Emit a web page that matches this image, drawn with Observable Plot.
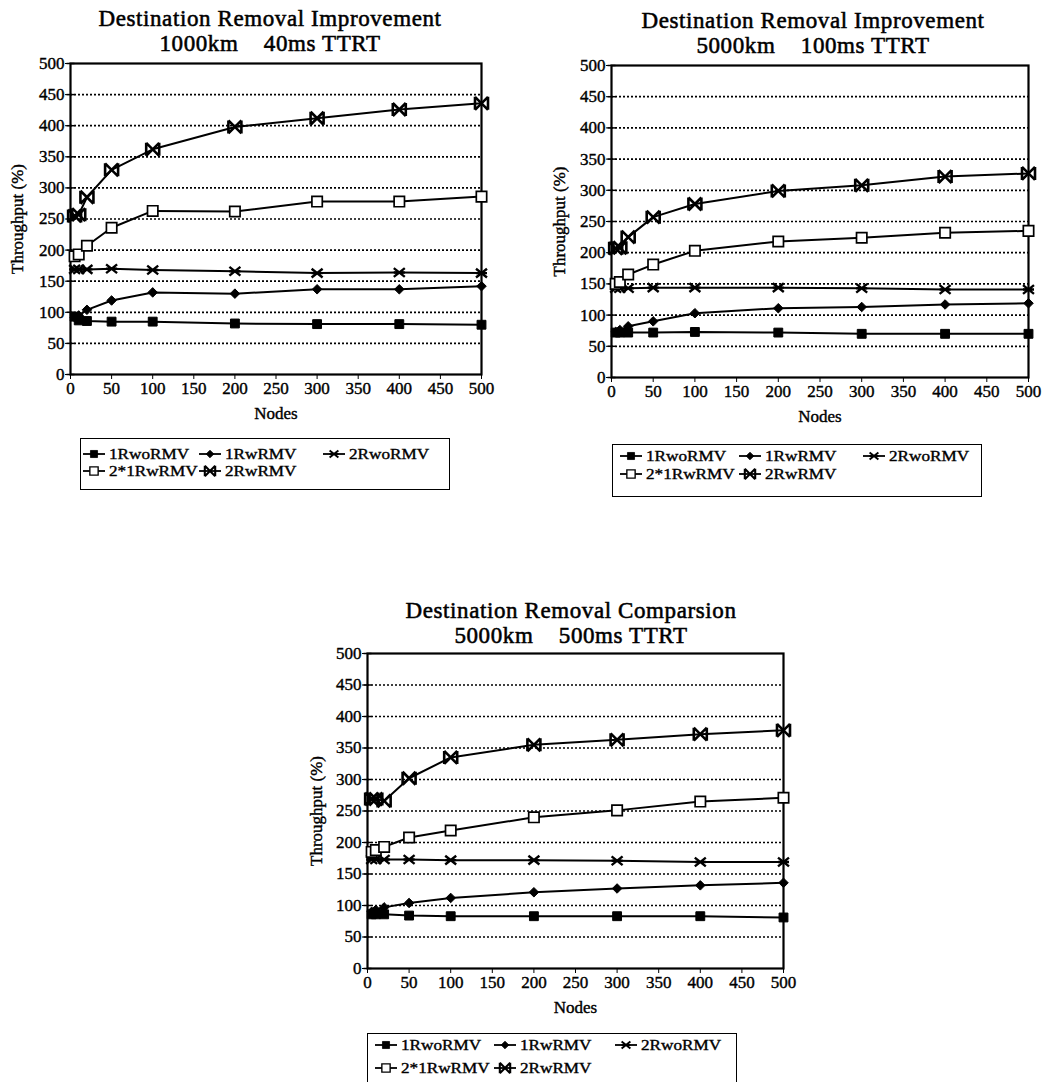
<!DOCTYPE html>
<html>
<head>
<meta charset="utf-8">
<script src="https://cdn.jsdelivr.net/npm/d3@7"></script>
<script src="https://cdn.jsdelivr.net/npm/@observablehq/plot@0.6"></script>
<style>
  html, body { margin: 0; padding: 0; background: #fff; }
  #root { position: relative; width: 1047px; height: 1082px; background: #fff; overflow: hidden;
          font-family: "Liberation Serif", "Times New Roman", serif; color: #000; }
  .title { position: absolute; white-space: pre; font-size: 23px; letter-spacing: 0.6px; line-height: 25px;
           transform: translateX(-50%); text-align: center; -webkit-text-stroke: 0.55px #000; z-index: 2; }
  .chart { position: absolute; z-index: 1; }
  .legend { position: absolute; border: 1.8px solid #000; box-sizing: border-box; }
  .entry { position: absolute; display: flex; align-items: center; height: 16px; }
  .entry span { display: inline-block; font-size: 14.3px; transform: scaleX(1.2); transform-origin: left center;
                white-space: pre; -webkit-text-stroke: 0.35px #000; }
</style>
</head>
<body>
<div id="root"></div>
<script>
// ---------- data ----------
const nodes = [5, 10, 20, 50, 100, 200, 300, 400, 500];
const seriesNames = ["1RwoRMV", "1RwRMV", "2RwoRMV", "2*1RwRMV", "2RwRMV"];
const xTicks = [0, 50, 100, 150, 200, 250, 300, 350, 400, 450, 500];
const yTicks = [0, 50, 100, 150, 200, 250, 300, 350, 400, 450, 500];
const gridVals = [50, 100, 150, 200, 250, 300, 350, 400, 450];

// Chart A: 1000km 40ms TTRT
const a_1RwoRMV  = [93, 87, 86, 85, 85, 82, 81, 81, 80];
const a_1RwRMV   = [92, 95, 104, 119, 132, 130, 137, 137, 142];
const a_2RwoRMV  = [169, 169, 169, 170, 168, 166, 163, 164, 163];
const a_2x1RwRMV = [190, 193, 207, 236, 263, 262, 278, 278, 286];
const a_2RwRMV   = [255, 257, 285, 329, 362, 398, 412, 426, 436];

// Chart B: 5000km 100ms TTRT
const b_1RwoRMV  = [72, 72, 72, 72, 73, 72, 70, 70, 70];
const b_1RwRMV   = [73, 76, 82, 90, 103, 111, 113, 117, 119];
const b_2RwoRMV  = [143, 143, 143, 144, 144, 144, 143, 141, 141];
const b_2x1RwRMV = [150, 153, 165, 181, 203, 218, 224, 232, 235];
const b_2RwRMV   = [207, 208, 225, 257, 278, 299, 308, 322, 327];

// Chart C: 5000km 500ms TTRT
const c_1RwoRMV  = [86, 86, 86, 84, 83, 83, 83, 83, 81];
const c_1RwRMV   = [90, 93, 97, 104, 112, 121, 127, 132, 136];
const c_2RwoRMV  = [173, 173, 173, 173, 172, 172, 171, 169, 169];
const c_2x1RwRMV = [185, 188, 193, 208, 219, 240, 251, 265, 271];
const c_2RwRMV   = [269, 269, 266, 302, 335, 355, 363, 372, 378];

const titleA = ["Destination Removal Improvement", "1000km    40ms TTRT"];
const titleB = ["Destination Removal Improvement", "5000km    100ms TTRT"];
const titleC = ["Destination Removal Comparsion", "5000km    500ms TTRT"];

// ---------- symbols ----------
const astSym = { draw(ctx, size) { const r = Math.sqrt(size / Math.PI);
  ctx.moveTo(-r, -r * 0.8); ctx.lineTo(r, r * 0.8); ctx.moveTo(-r, r * 0.8); ctx.lineTo(r, -r * 0.8);
  ctx.moveTo(-r, 0); ctx.lineTo(r, 0); } };
const bowSym = { draw(ctx, size) { const r = Math.sqrt(size / Math.PI);
  ctx.moveTo(-r, -r); ctx.lineTo(r, r); ctx.moveTo(-r, r); ctx.lineTo(r, -r);
  ctx.moveTo(-r, -r); ctx.lineTo(-r, r); ctx.moveTo(r, -r); ctx.lineTo(r, r); } };
const hSym = { draw(ctx, size) { const r = Math.sqrt(size / Math.PI); ctx.moveTo(-r, 0); ctx.lineTo(r, 0); } };

const styles = {
  "1RwoRMV":  { symbol: "square",   fill: "black", stroke: "black", strokeWidth: 1,   r: 5 },
  "1RwRMV":   { symbol: "diamond2", fill: "black", stroke: "black", strokeWidth: 1,   r: 4.3 },
  "2RwoRMV":  { symbol: astSym,     fill: "none",  stroke: "black", strokeWidth: 2.4, r: 5.5 },
  "2*1RwRMV": { symbol: "square2",  fill: "white", stroke: "black", strokeWidth: 1.7, r: 6.6 },
  "2RwRMV":   { symbol: bowSym,     fill: "none",  stroke: "black", strokeWidth: 2.6, r: 6.5 }
};

const FONT = '"Liberation Serif", "Times New Roman", serif';
const root = document.getElementById("root");

function addTitle(lines, cx, y1) {
  lines.forEach((t, i) => {
    const d = document.createElement("div");
    d.className = "title";
    d.textContent = t;
    d.style.left = cx + "px";
    d.style.top = (y1 - 12.5 + i * 25) + "px";
    root.appendChild(d);
  });
}

function makeChart(values, opt) {
  const rows = [];
  seriesNames.forEach((s, i) => values[i].forEach((v, j) => rows.push({ series: s, nodes: nodes[j], thr: v })));
  const marks = [
    Plot.ruleY(gridVals, { stroke: "black", strokeWidth: 1.7, strokeDasharray: "2,2" }),
    Plot.axisX({ ticks: xTicks, tickFormat: d => String(d), tickSize: 5, tickPadding: 2, fontSize: 17,
                 label: "Nodes", labelAnchor: "center", labelArrow: "none", labelOffset: opt.xLabelOffset }),
    Plot.axisY({ ticks: yTicks, tickFormat: d => String(d), tickSize: 5, tickPadding: 1, fontSize: 17,
                 label: "Throughput (%)", labelAnchor: "center", labelArrow: "none", labelOffset: opt.yLabelOffset }),
    Plot.dot(yTicks, { x: 0, y: d => d, symbol: hSym, r: 4, fill: "none", stroke: "black", strokeWidth: 1.5 }),
    Plot.frame({ stroke: "black", strokeWidth: 2.2 }),
    Plot.line(rows, { x: "nodes", y: "thr", z: "series", stroke: "black", strokeWidth: 2 })
  ];
  seriesNames.forEach(s => {
    const st = styles[s];
    marks.push(Plot.dot(rows.filter(r => r.series === s), { x: "nodes", y: "thr", ...st }));
  });
  const svg = Plot.plot({
    width: opt.width, height: opt.height,
    marginLeft: opt.ml, marginRight: opt.mr, marginTop: opt.mt, marginBottom: opt.mb,
    style: { fontFamily: FONT, fontSize: "17px", color: "black", background: "transparent", overflow: "visible" },
    x: { domain: [0, 500] },
    y: { domain: [0, 500] },
    marks
  });
  svg.querySelectorAll("text").forEach(t => { t.setAttribute("stroke", "black"); t.setAttribute("stroke-width", "0.4"); });
  const wrap = document.createElement("div");
  wrap.className = "chart";
  wrap.style.left = opt.left + "px";
  wrap.style.top = opt.top + "px";
  wrap.appendChild(svg);
  root.appendChild(wrap);
}

// legend glyph svg (legend swatches, not data)
function glyph(name) {
  const ns = "http://www.w3.org/2000/svg";
  const svg = document.createElementNS(ns, "svg");
  svg.setAttribute("width", 22); svg.setAttribute("height", 14);
  svg.style.overflow = "visible";
  const line = document.createElementNS(ns, "line");
  line.setAttribute("x1", 0); line.setAttribute("x2", 22); line.setAttribute("y1", 7); line.setAttribute("y2", 7);
  line.setAttribute("stroke", "black"); line.setAttribute("stroke-width", 1.8);
  svg.appendChild(line);
  const p = document.createElementNS(ns, "path");
  const st = styles[name];
  let sym = st.symbol;
  if (typeof sym === "string") sym = { square: d3.symbolSquare, diamond2: d3.symbolDiamond2, square2: d3.symbolSquare2 }[sym];
  const r = st.r * 0.8;
  p.setAttribute("d", d3.symbol(sym, r * r * Math.PI)());
  p.setAttribute("transform", "translate(11,7)");
  p.setAttribute("fill", st.fill); p.setAttribute("stroke", st.stroke); p.setAttribute("stroke-width", st.strokeWidth * 0.8);
  svg.appendChild(p);
  return svg;
}

function makeLegend(opt) {
  const box = document.createElement("div");
  box.className = "legend";
  box.style.left = opt.left + "px"; box.style.top = opt.top + "px";
  box.style.width = opt.width + "px"; box.style.height = opt.height + "px";
  const cols = opt.cols, rowsY = opt.rows;
  const order = [[0, 0], [0, 1], [0, 2], [1, 0], [1, 1]];
  seriesNames.forEach((s, i) => {
    const [r, c] = order[i];
    const e = document.createElement("div");
    e.className = "entry";
    e.style.left = cols[c] + "px";
    e.style.top = (rowsY[r] - 8) + "px";
    e.appendChild(glyph(s));
    const t = document.createElement("span");
    t.textContent = s;
    t.style.marginLeft = "4px";
    e.appendChild(t);
    box.appendChild(e);
  });
  root.appendChild(box);
}

// ---------- build ----------
addTitle(titleA, 270, 18);
makeChart([a_1RwoRMV, a_1RwRMV, a_2RwoRMV, a_2x1RwRMV, a_2RwRMV],
  { left: 0, top: 55, width: 495, height: 380, ml: 70, mr: 14, mt: 8, mb: 61, xLabelOffset: 44, yLabelOffset: 60 });
makeLegend({ left: 80, top: 438, width: 370, height: 52, cols: [2, 118, 242], rows: [15, 32] });

addTitle(titleB, 813, 20);
makeChart([b_1RwoRMV, b_1RwRMV, b_2RwoRMV, b_2x1RwRMV, b_2RwRMV],
  { left: 530, top: 55, width: 517, height: 380, ml: 81, mr: 19, mt: 10, mb: 58, xLabelOffset: 44, yLabelOffset: 59 });
makeLegend({ left: 612, top: 444, width: 370, height: 53, cols: [7, 126, 250], rows: [11, 29] });

addTitle(titleC, 571, 610);
makeChart([c_1RwoRMV, c_1RwRMV, c_2RwoRMV, c_2x1RwRMV, c_2RwRMV],
  { left: 300, top: 640, width: 500, height: 380, ml: 67, mr: 17, mt: 13, mb: 52, xLabelOffset: 44, yLabelOffset: 58 });
makeLegend({ left: 367, top: 1033, width: 370, height: 62, cols: [7, 126, 247], rows: [11, 34] });
</script>
</body>
</html>
